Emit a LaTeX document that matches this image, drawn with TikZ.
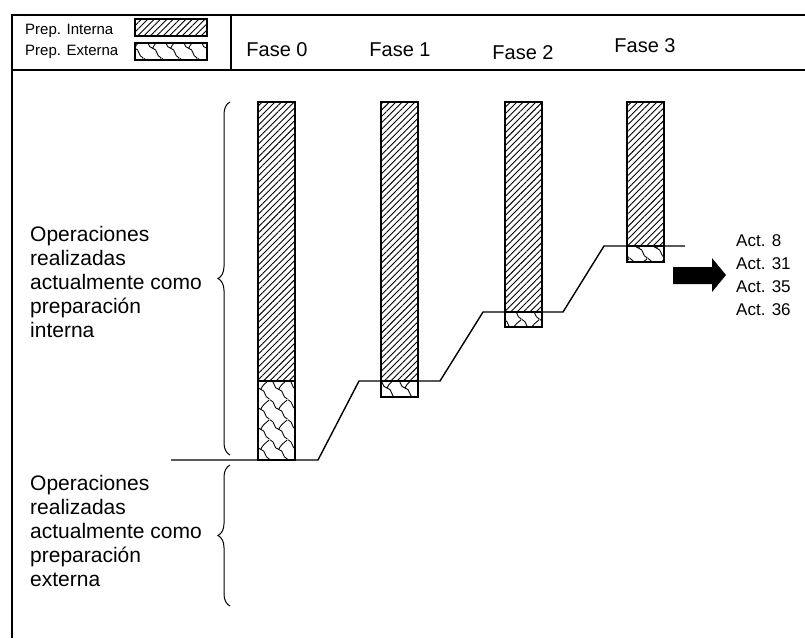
\documentclass[tikz,border=0pt]{standalone}
\usepackage{fontspec}
\setmainfont{Liberation Sans}
\usetikzlibrary{patterns, patterns.meta, decorations.pathreplacing}

% wavy pattern for the external preparation
\pgfdeclarepatternformonly{externa}{\pgfpointorigin}{\pgfpoint{18pt}{20pt}}{\pgfpoint{18pt}{20pt}}{
  \pgfsetlinewidth{0.9pt}
  \pgfpathmoveto{\pgfpoint{0pt}{20pt}}
  \pgfpathcurveto{\pgfpoint{6pt}{18pt}}{\pgfpoint{3pt}{11pt}}{\pgfpoint{9pt}{10pt}}
  \pgfpathcurveto{\pgfpoint{15pt}{9pt}}{\pgfpoint{12pt}{2pt}}{\pgfpoint{18pt}{0pt}}
  \pgfpathmoveto{\pgfpoint{9pt}{10pt}}
  \pgfpathcurveto{\pgfpoint{11pt}{15pt}}{\pgfpoint{15pt}{17pt}}{\pgfpoint{18pt}{20pt}}
  \pgfusepath{stroke}
}

\begin{document}
\begin{tikzpicture}[
            x=1pt, y=-1pt,
            interna/.style={pattern={Lines[angle=45, distance=4.5pt, line width=0.9pt]}},
            externa/.style={pattern=externa},
            bar/.style={draw, line width=1.2pt},
            stepline/.style={line width=1.4pt},
            frame/.style={line width=1.6pt},
            sidetext/.style={font=\fontsize{21}{24}\selectfont, align=left, inner sep=0pt, anchor=west},
            fase/.style={font=\fontsize{20}{22}\selectfont, inner sep=0pt},
            legtext/.style={font=\fontsize{15}{18}\selectfont, inner sep=0pt, anchor=west},
            acttext/.style={font=\fontsize{17}{23}\selectfont, align=left, inner sep=0pt, anchor=west},
            curly/.style={decorate, decoration={brace, amplitude=12pt}, line width=1pt}
        ]
        \useasboundingbox (0,0) rectangle (805,638);

        % Frame and header
        \draw[frame] (805,15) -- (12,15) -- (12,638);
        \draw[frame] (12,70) -- (805,70);
        \draw[frame] (231,15) -- (231,70);

        % Legend
        \node[legtext] (legInt) at (25,31) {Prep. Interna};
        \node[legtext] (legExt) at (25,52) {Prep. Externa};
        \draw[bar, interna] (135,19) rectangle (207,36);
        \draw[bar, externa] (135,43) rectangle (207,60);

        % Phase labels
        \node[fase] (fase0) at (277,50) {Fase 0};
        \node[fase] (fase1) at (400,50) {Fase 1};
        \node[fase] (fase2) at (523,53) {Fase 2};
        \node[fase] (fase3) at (645,46) {Fase 3};

        % Bars: x / split / bottom
        \foreach \bx/\bs/\bb in {258/381/460, 381/381/397, 505/312/327, 627/246/262} {
            \fill[interna] (\bx,102) rectangle (\bx+37,\bs);
            \fill[externa] (\bx,\bs) rectangle (\bx+37,\bb);
            \draw[bar] (\bx,102) rectangle (\bx+37,\bb);
            \draw[bar] (\bx,\bs) -- (\bx+37,\bs);
        }

        % Step line
        \draw[stepline] (171,460) -- (318,460) -- (359,381) -- (440,381)
            -- (483,312) -- (563,312) -- (604,246) -- (685,246);

        % Braces and their texts
        \coordinate (intLow) at (230,455);
        \coordinate (intTop) at (230,102);
        \coordinate (extLow) at (230,606);
        \coordinate (extTop) at (230,465);
        \draw[curly] (intLow) -- (intTop);
        \draw[curly] (extLow) -- (extTop);
        \node[sidetext] (intText) at (30,282) {Operaciones\\realizadas\\actualmente como\\preparación\\interna};
        \node[sidetext] (extText) at (30,531) {Operaciones\\realizadas\\actualmente como\\preparación\\externa};

        % Activities moved
        \fill (673,267) -- (712,267) -- (712,258) -- (726,275) -- (712,292) -- (712,284) -- (673,284) -- cycle;
        \node[acttext] (acts) at (736,275) {Act. 8\\Act. 31\\Act. 35\\Act. 36};

    \end{tikzpicture}
\end{document}
